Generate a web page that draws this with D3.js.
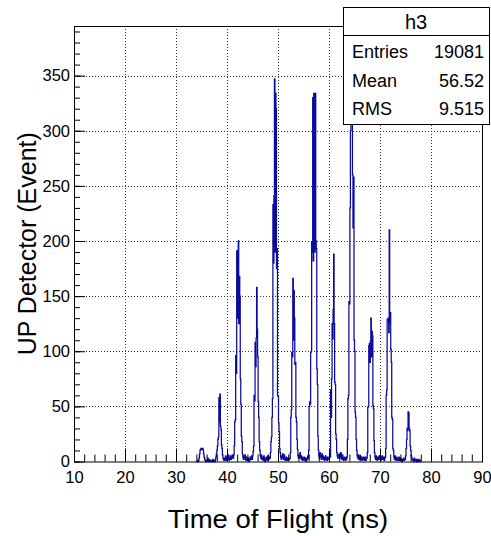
<!DOCTYPE html>
<html><head><meta charset="utf-8">
<script src="https://cdn.jsdelivr.net/npm/d3@7"></script>
<style>
body{margin:0;background:#fff}
svg{display:block}
text{font-family:"Liberation Sans",Arial,Helvetica,sans-serif;fill:#000}
</style></head>
<body><svg id="c" width="491" height="536"></svg>
<script>
// ---- data ----
const histName = "h3";
const xTitle = "Time of Flight (ns)";
const yTitle = "UP Detector (Event)";
const xMajorTicks = [10, 20, 30, 40, 50, 60, 70, 80, 90];
const yMajorTicks = [0, 50, 100, 150, 200, 250, 300, 350];
const statsLabels = ["Entries", "Mean", "RMS"];
const statsValues = ["19081", "56.52", "9.515"];
const binStart = 34.0;   // ns, left edge of first listed bin
const binWidth = 0.1;    // ns
// counts per 0.1 ns bin, one row per ns (34.x ... 77.x)
const counts = [
  0,0,1,0,1,3,7,10,11,12,
  12,11,12,10,7,4,2,1,0,1,
  0,1,3,1,0,2,1,0,1,0,
  1,0,2,1,0,1,0,2,4,7,
  10,14,20,22,58,36,61,32,29,15,
  12,6,3,2,1,3,2,5,1,3,
  4,2,6,3,1,2,5,3,2,4,
  6,3,3,6,14,36,38,96,80,191,
  130,188,200,125,168,150,75,52,23,18,
  7,4,2,5,3,6,2,1,4,2,
  1,3,0,2,1,4,2,3,5,2,
  5,9,14,60,55,108,86,112,158,120,
  95,54,40,18,10,5,3,6,2,4,
  3,1,5,2,0,3,2,4,1,2,
  5,3,2,4,3,8,18,22,40,57,
  233,180,241,347,190,334,320,175,193,60,
  59,35,27,12,8,4,2,5,3,7,
  4,2,6,3,1,2,4,1,3,2,
  1,3,2,3,8,40,47,99,95,166,
  110,155,130,88,90,40,36,20,11,5,
  3,6,4,8,3,5,2,4,1,3,
  2,4,1,3,2,0,3,2,5,3,
  10,50,54,52,99,100,199,190,330,182,
  334,330,190,334,200,193,84,70,23,10,
  5,3,8,4,6,2,7,3,5,2,
  4,1,3,5,2,3,1,4,2,3,
  2,5,4,65,40,75,125,111,138,188,
  125,72,70,25,20,8,5,3,6,4,
  7,3,5,8,4,2,6,3,1,4,
  2,3,1,4,2,4,20,57,60,145,
  143,230,300,376,310,350,260,212,258,110,
  100,45,40,20,10,5,3,6,2,4,
  3,5,2,4,1,3,2,4,3,1,
  2,4,1,3,3,8,49,50,105,107,
  90,109,130,95,118,114,51,48,19,8,
  4,2,5,3,1,4,2,3,5,2,
  3,1,4,2,5,3,2,4,1,3,
  4,12,60,65,129,128,130,117,210,125,
  135,102,90,40,38,12,10,4,2,5,
  3,1,4,2,3,1,2,4,1,2,
  3,1,2,0,2,1,3,1,2,2,
  5,12,20,30,28,45,44,30,28,14,
  10,5,3,2,1,2,0,3,1,2,
  1,0,2,1,0,1,2,0,1,0
];

// ---- layout ----
const W = 491, H = 536;
const F = {l: 74, r: 482, t: 26, b: 461.5};
const svg = d3.select("#c");
svg.append("rect").attr("width", W).attr("height", H).attr("fill", "#fff");

const x = d3.scaleLinear().domain([10, 90]).range([F.l, F.r]);
const y = d3.scaleLinear().domain([0, 395]).range([F.b, F.t]);

// grid
const grid = svg.append("g").attr("stroke", "#111").attr("stroke-width", 1)
  .attr("stroke-dasharray", "1,2").attr("opacity", 0.85);
grid.selectAll("line.v").data(xMajorTicks.slice(1, -1)).join("line")
  .attr("x1", d => Math.round(x(d)) + 0.5).attr("x2", d => Math.round(x(d)) + 0.5)
  .attr("y1", F.t).attr("y2", F.b);
grid.selectAll("line.h").data(yMajorTicks.slice(1)).join("line")
  .attr("y1", d => Math.round(y(d)) + 0.5).attr("y2", d => Math.round(y(d)) + 0.5)
  .attr("x1", F.l).attr("x2", F.r);

// histogram (step outline)
const pts = [[binStart, 0]];
counts.forEach((c, i) => {
  const x0 = binStart + i * binWidth, x1 = x0 + binWidth;
  pts.push([x0, c], [x1, c]);
});
pts.push([binStart + counts.length * binWidth, 0]);
svg.append("path")
  .attr("d", d3.line().x(d => x(d[0])).y(d => y(d[1]))(pts))
  .attr("fill", "none").attr("stroke", "#0a0a9c").attr("stroke-width", 1.25)
  .attr("stroke-linejoin", "miter");

// axes
const xMinor = d3.range(10, 90.001, 2);
const yMinor = d3.range(0, 395, 10);
const gx = svg.append("g").attr("transform", `translate(0,${F.b})`);
gx.call(d3.axisBottom(x).tickValues(xMinor).tickSizeInner(-7).tickSizeOuter(0).tickFormat(""));
gx.call(g => g.select(".domain").remove());
const gx2 = svg.append("g").attr("transform", `translate(0,${F.b})`);
gx2.call(d3.axisBottom(x).tickValues(xMajorTicks).tickSizeInner(-13).tickSizeOuter(0).tickPadding(10).tickFormat(d3.format("d")));
gx2.call(g => g.select(".domain").remove());
gx2.selectAll("text").attr("font-size", 16.5).attr("font-family", '"Liberation Sans",Arial,sans-serif');

const gy = svg.append("g").attr("transform", `translate(${F.l},0)`);
gy.call(d3.axisLeft(y).tickValues(yMinor).tickSizeInner(-6).tickSizeOuter(0).tickFormat(""));
gy.call(g => g.select(".domain").remove());
const gy2 = svg.append("g").attr("transform", `translate(${F.l},0)`);
gy2.call(d3.axisLeft(y).tickValues(yMajorTicks).tickSizeInner(-11).tickSizeOuter(0).tickPadding(4).tickFormat(d3.format("d")));
gy2.call(g => g.select(".domain").remove());
gy2.selectAll("text").attr("font-size", 16.5).attr("font-family", '"Liberation Sans",Arial,sans-serif');
svg.selectAll(".tick line").attr("stroke", "#000");

// frame
svg.append("rect").attr("x", F.l + 0.5).attr("y", F.t + 0.5)
  .attr("width", F.r - F.l).attr("height", F.b - F.t)
  .attr("fill", "none").attr("stroke", "#000").attr("stroke-width", 1);

// titles
svg.append("text").attr("transform", `translate(${(F.l + F.r) / 2},519) scale(1.1,1)`).attr("dy", "0.35em")
  .attr("text-anchor", "middle").attr("font-size", 25).text(xTitle);
svg.append("text").attr("transform", `translate(27,${(F.t + F.b) / 2}) rotate(-90)`)
  .attr("dy", "0.35em").attr("text-anchor", "middle").attr("font-size", 25).text(yTitle);

// stats box
const B = {l: 343, t: 7, r: 489, b: 124, div: 35};
const sb = svg.append("g");
sb.append("rect").attr("x", B.l + 0.5).attr("y", B.t + 0.5)
  .attr("width", B.r - B.l).attr("height", B.b - B.t)
  .attr("fill", "#fff").attr("stroke", "#000");
sb.append("line").attr("x1", B.l).attr("x2", B.r).attr("y1", B.div + 0.5).attr("y2", B.div + 0.5).attr("stroke", "#000");
sb.append("text").attr("x", (B.l + B.r) / 2).attr("y", (B.t + B.div) / 2 + 1).attr("dy", "0.35em")
  .attr("text-anchor", "middle").attr("font-size", 20).text(histName);
const rowY = [52, 80.5, 109];
statsLabels.forEach((s, i) => {
  sb.append("text").attr("x", 352).attr("y", rowY[i]).attr("dy", "0.35em").attr("font-size", 18).text(s);
  sb.append("text").attr("x", 484).attr("y", rowY[i]).attr("dy", "0.35em").attr("text-anchor", "end").attr("font-size", 18).text(statsValues[i]);
});
</script></body></html>
